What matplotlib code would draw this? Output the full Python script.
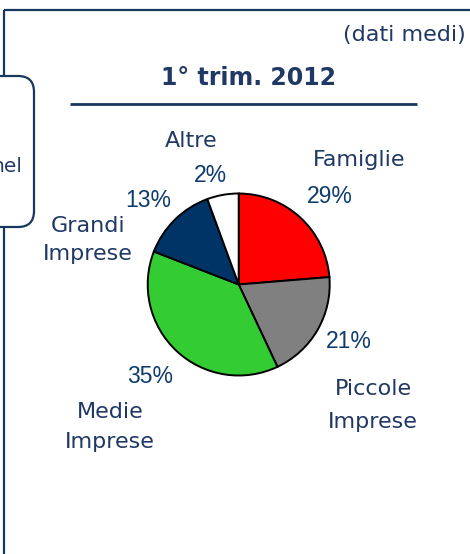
import matplotlib.pyplot as plt
from matplotlib.patches import FancyBboxPatch

# slice shares as drawn in the picture (clockwise from 12 o'clock)
categories = ["Famiglie", "Piccole\nImprese", "Medie\nImprese", "Grandi\nImprese", "Altre"]
shares = [23.7, 19.3, 37.9, 13.5, 5.6]
pct_labels = ["29%", "21%", "35%", "13%", "2%"]
colors = ["#ff0000", "#808080", "#33cc33", "#003366", "#ffffff"]

title = "1° trim. 2012"
note = "(dati medi)"

W, H = 470, 554
navy = "#1f3864"
pct_col = "#0d3b6e"
frame_col = "#17375e"

fig = plt.figure(figsize=(W / 100, H / 100), dpi=100)
ax = fig.add_axes([0, 0, 1, 1])


def y(v):
    # image row -> axes y
    return H - v


# pie
cx, cy, r = 238.7, 284.5, 91
ax.pie(shares, colors=colors, startangle=90, counterclock=False,
       center=(cx, y(cy)), radius=r,
       wedgeprops=dict(edgecolor="black", linewidth=1.4))
ax.set_xlim(0, W)
ax.set_ylim(0, H)
ax.set_aspect("auto")
ax.axis("off")

# frame lines
ax.plot([4, W], [y(10), y(10)], color=frame_col, lw=1.6, solid_capstyle="butt")
ax.plot([4, 4], [y(10), 0], color=frame_col, lw=1.6, solid_capstyle="butt")
box = FancyBboxPatch((-30, y(227)), 64, 151, boxstyle="round,pad=0,rounding_size=16",
                     facecolor="white", edgecolor=frame_col, lw=1.6, zorder=3)
ax.add_patch(box)
ax.text(22, y(172), "nel", ha="right", va="baseline", fontsize=14.5,
        color=navy, family="DejaVu Sans", zorder=4)

# header
ax.text(466, y(41), note, ha="right", va="baseline", fontsize=16,
        color=navy, family="DejaVu Sans")
ax.text(248.6, y(85), title, ha="center", va="baseline", fontsize=17,
        fontweight="bold", color=navy, family="DejaVu Sans")
ax.plot([70, 417], [y(104), y(104)], color=frame_col, lw=2, solid_capstyle="butt")

# labels: (x, first baseline, line step) for names, (x, baseline) for percents
name_pos = [(359, 166, 0), (373, 395, 33), (110, 418, 30), (88, 232, 28), (191.5, 147, 0)]
pct_pos = [(330, 203), (349.3, 348), (150, 383), (148, 207.3), (210.5, 181.7)]

for name, (nx, ny, step) in zip(categories, name_pos):
    for i, line in enumerate(name.split("\n")):
        ax.text(nx, y(ny + i * step), line, ha="center", va="baseline",
                fontsize=16, color=navy, family="DejaVu Sans")

for lab, (px, py) in zip(pct_labels, pct_pos):
    ax.text(px, y(py), lab, ha="center", va="baseline", fontsize=16.5,
            color=pct_col, family="Liberation Sans")

fig.savefig("out.png", dpi=100)
